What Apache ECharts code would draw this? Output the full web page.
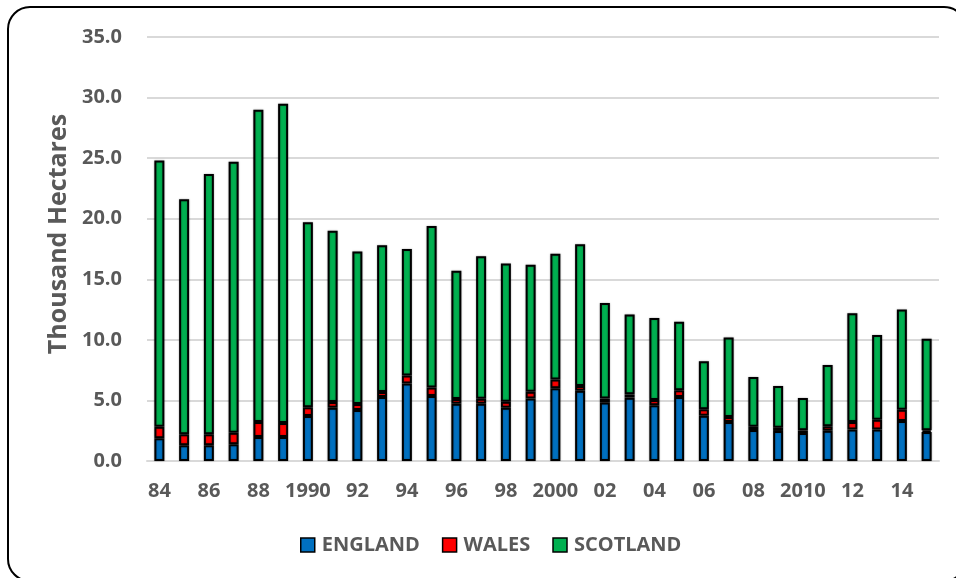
<!DOCTYPE html>
<html>
<head>
<meta charset="utf-8">
<script src="https://cdn.jsdelivr.net/npm/echarts@6/dist/echarts.min.js"></script>
<style>
  html, body { margin: 0; padding: 0; background: #fff; }
  #chart { width: 956px; height: 578px; }
</style>
</head>
<body>
<div id="chart"></div>
<script>
// Year labels along the category axis
const years = ['84','85','86','87','88','89','1990','91','92','93','94','95','96','97','98','99',
               '2000','01','02','03','04','05','06','07','08','09','2010','11','12','13','14','15'];

// Thousand hectares, stacked per year
const england  = [1.87,1.30,1.30,1.38,1.98,1.98,3.72,4.40,4.20,5.28,6.39,5.37,4.73,4.73,4.40,5.15,
                  6.00,5.80,4.82,5.23,4.60,5.28,3.74,3.22,2.56,2.48,2.31,2.50,2.59,2.59,3.30,2.40];
const wales    = [0.96,0.90,0.90,0.96,1.24,1.16,0.71,0.47,0.50,0.42,0.66,0.69,0.39,0.41,0.50,0.57,
                  0.72,0.39,0.33,0.27,0.44,0.56,0.53,0.41,0.27,0.27,0.22,0.36,0.63,0.82,0.94,0.13];
const scotland = [21.97,19.40,21.50,22.36,25.78,26.36,15.27,14.13,12.60,12.10,10.45,13.34,10.58,11.76,11.40,10.48,
                  10.38,11.71,7.90,6.60,6.76,5.66,3.96,6.57,4.11,3.44,2.67,5.07,8.98,6.99,8.26,7.57];

const seriesNames = ['ENGLAND', 'WALES', 'SCOTLAND'];
const seriesColors = ['#0070C0', '#FF0000', '#00B050'];
const seriesData = [england, wales, scotland];

const textGrey = '#595959';
const font = '"Open Sans", "Liberation Sans", sans-serif';

const chart = echarts.init(document.getElementById('chart'), null, { renderer: 'canvas' });

chart.setOption({
  animation: false,
  backgroundColor: '#fff',
  textStyle: { fontFamily: font },
  grid: { left: 147, right: 17, top: 37, bottom: 117, containLabel: false },
  legend: {
    bottom: 18,
    left: 295,
    itemWidth: 14,
    itemHeight: 14,
    itemGap: 22,
    icon: 'rect',
    data: seriesNames,
    itemStyle: { borderColor: '#000', borderWidth: 1.5, shadowBlur: 0 },
    textStyle: { color: textGrey, fontSize: 20, fontWeight: 'bold', fontFamily: font, padding: [0, 0, 0, 2] }
  },
  xAxis: {
    type: 'category',
    data: years,
    axisLine: { lineStyle: { color: '#d9d9d9', width: 2 } },
    axisTick: { show: false },
    axisLabel: {
      interval: 1,
      margin: 20,
      color: textGrey,
      fontSize: 20,
      fontWeight: 'bold',
      fontFamily: font
    }
  },
  yAxis: {
    type: 'value',
    min: 0,
    max: 35,
    interval: 5,
    name: 'Thousand Hectares',
    nameLocation: 'middle',
    nameGap: 74,
    nameTextStyle: {
      color: textGrey,
      fontSize: 25,
      fontWeight: 'bold',
      fontFamily: font,
      padding: [0, 0, 0, 30]
    },
    axisLine: { show: false },
    axisTick: { show: false },
    splitLine: { lineStyle: { color: '#d9d9d9', width: 2 } },
    axisLabel: {
      margin: 25,
      color: textGrey,
      fontSize: 20,
      fontWeight: 'bold',
      fontFamily: font,
      formatter: v => v.toFixed(1)
    }
  },
  series: seriesNames.map((name, i) => ({
    name: name,
    type: 'bar',
    stack: 'total',
    barWidth: 10,
    data: seriesData[i],
    itemStyle: {
      color: seriesColors[i],
      borderColor: '#000',
      borderWidth: 2,
      shadowColor: 'rgba(0,0,0,0.3)',
      shadowBlur: 2
    }
  })),
  graphic: [{
    type: 'rect',
    silent: true,
    z: 100,
    shape: { x: 8, y: 7, width: 958, height: 574, r: 22 },
    style: { fill: 'none', stroke: '#000', lineWidth: 2 }
  }]
});
</script>
</body>
</html>
